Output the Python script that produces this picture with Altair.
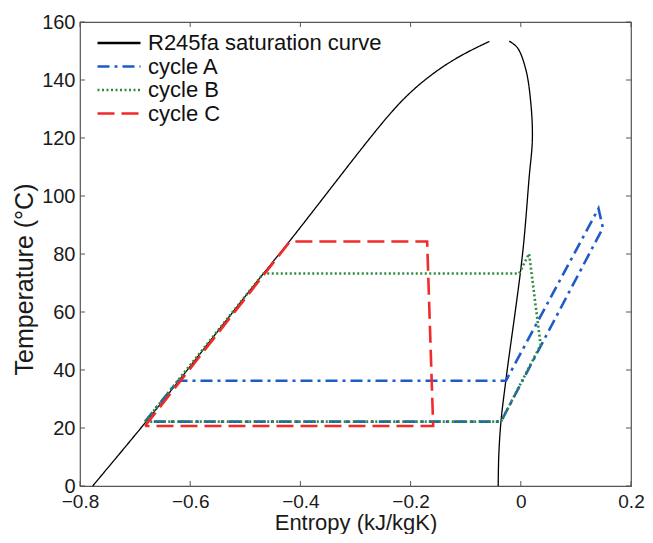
import altair as alt
import pandas as pd

# ---- data ----
series_names = ["R245fa saturation curve", "cycle A", "cycle B", "cycle C"]
series_colors = ["#000000", "#1f5bc6", "#2e8b3e", "#f22a2a"]
series_dashes = [[1, 0], [12, 5, 3, 5], [2, 2.5], [17, 7]]

sat_liq_s = [-0.777, -0.682, -0.622, -0.467, -0.419, -0.263, -0.204, -0.143, -0.096, -0.057]
sat_liq_T = [0.0, 21.6, 35.9, 73.5, 84.3, 123.0, 135.7, 144.7, 149.8, 153.3]

sat_vap_s = [-0.021, -0.006, 0.009, 0.018, 0.021, 0.015, 0.003, -0.027, -0.036, -0.040, -0.041]
sat_vap_T = [153.4, 151.1, 143.7, 132.4, 119.8, 106.1, 79.7, 36.6, 22.2, 10.3, 0.0]

cycA_s = [-0.682, -0.622, -0.027, 0.141, 0.149, -0.036, -0.682]
cycA_T = [22.2, 36.3, 36.3, 95.7, 89.0, 22.2, 22.2]

cycB_s = [-0.682, -0.467, -0.003, 0.015, 0.036, -0.036, -0.682]
cycB_T = [22.2, 73.3, 73.3, 80.1, 48.6, 22.2, 22.2]

cycC_s = [-0.682, -0.419, -0.170, -0.159, -0.682]
cycC_T = [20.7, 84.3, 84.3, 20.7, 20.7]

x_ticks = [-0.8, -0.6, -0.4, -0.2, 0.0, 0.2]
y_ticks = [0, 20, 40, 60, 80, 100, 120, 140, 160]

# ---- tables ----
def rows(name, group, s_list, T_list):
    return [dict(series=name, group=group, idx=i, s=s, T=T)
            for i, (s, T) in enumerate(zip(s_list, T_list))]

liq_df = pd.DataFrame(rows(series_names[0], "liq", sat_liq_s, sat_liq_T))
vap_df = pd.DataFrame(rows(series_names[0], "vap", sat_vap_s, sat_vap_T))
cyc_df = pd.DataFrame(rows(series_names[1], "A", cycA_s, cycA_T)
                      + rows(series_names[2], "B", cycB_s, cycB_T)
                      + rows(series_names[3], "C", cycC_s, cycC_T))
xt_df = pd.DataFrame({"s": x_ticks})
yt_df = pd.DataFrame({"T": y_ticks})

W, H = 551, 464
FONT = "Liberation Sans"

x_axis = alt.Axis(values=x_ticks, format="~g", title="Entropy (kJ/kgK)",
                  labelPadding=6, titlePadding=1, titleFontSize=22, labelFontSize=19)
y_axis = alt.Axis(values=y_ticks, format="d", title="Temperature (\u00b0C)",
                  labelPadding=5, titlePadding=4, titleFontSize=25, titleY=257)

def X():
    return alt.X("s:Q", scale=alt.Scale(domain=[-0.8, 0.2], nice=False, zero=False), axis=x_axis)

def Y():
    return alt.Y("T:Q", scale=alt.Scale(domain=[0, 160], nice=False, zero=False), axis=y_axis)

# stroke symbol: r = sqrt(225)/2 = 7.5, path from -7.5 px to +35.5 px (43 px long)
legend = alt.Legend(orient="none", legendX=14, legendY=10, title=None,
                    labelFontSize=22, labelFont=FONT, labelColor="#111",
                    symbolType="M-1,0H4.733", symbolSize=225, symbolStrokeWidth=2.5,
                    labelLimit=400, labelOffset=32, rowPadding=1.5, padding=0)

color = alt.Color("series:N", scale=alt.Scale(domain=series_names, range=series_colors), legend=legend)
dash = alt.StrokeDash("series:N", scale=alt.Scale(domain=series_names, range=series_dashes), legend=legend)

liq = alt.Chart(liq_df).mark_line(interpolate="basis", strokeWidth=1.3).encode(
    x=X(), y=Y(), color=color, strokeDash=dash, order="idx:Q")

vap = alt.Chart(vap_df).mark_line(interpolate="catmull-rom", strokeWidth=1.3).encode(
    x=X(), y=Y(), color=color, strokeDash=dash, order="idx:Q")

cyc = alt.Chart(cyc_df).mark_line(strokeWidth=2.6).encode(
    x=X(), y=Y(), color=color, strokeDash=dash,
    detail="group:N", order="idx:Q")

TL = 5
tick_style = dict(color="#555555", strokeWidth=1)
xt_bot = alt.Chart(xt_df).mark_rule(**tick_style).encode(x=X(), y=alt.value(H - TL), y2=alt.value(H))
xt_top = alt.Chart(xt_df).mark_rule(**tick_style).encode(x=X(), y=alt.value(0), y2=alt.value(TL))
yt_l = alt.Chart(yt_df).mark_rule(**tick_style).encode(y=Y(), x=alt.value(0), x2=alt.value(TL))
yt_r = alt.Chart(yt_df).mark_rule(**tick_style).encode(y=Y(), x=alt.value(W - TL), x2=alt.value(W))

chart = alt.layer(xt_bot, xt_top, yt_l, yt_r, liq, vap, cyc).properties(
    width=W, height=H,
    autosize=alt.AutoSizeParams(type="none"),
    padding={"left": 72, "top": 14, "right": 14, "bottom": 48},
    background="white",
).configure_view(
    stroke="#555555", strokeWidth=1.2
).configure_axis(
    grid=False, ticks=False, domain=False,
    labelFont=FONT, labelFontSize=20, labelColor="#1a1a1a",
    titleFont=FONT, titleFontWeight="normal", titleColor="#1a1a1a",
    labelFlush=False, labelOverlap=False,
)

chart.save("out.html", embed_options={"renderer": "svg", "actions": False})
